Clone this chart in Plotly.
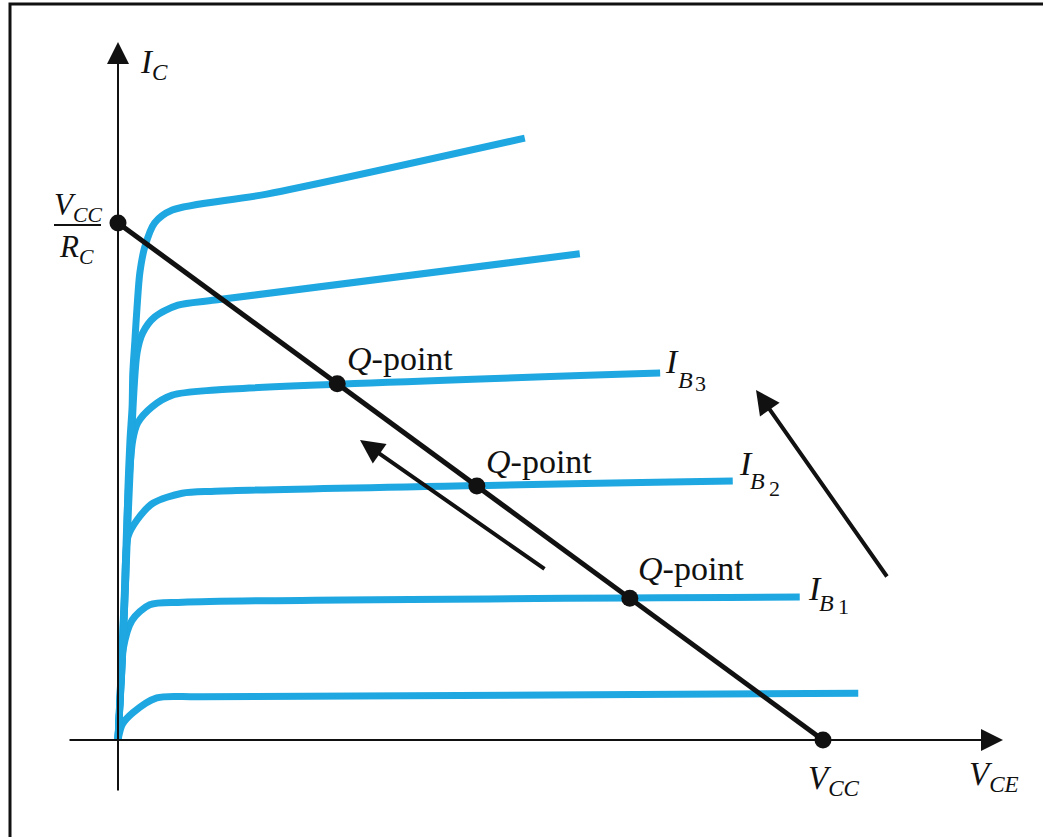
import plotly.graph_objects as go

## Output characteristics (V_CE in volts, I_C in mA)
vcc = 10.0
ic_sat = 10.06

curve_v = [
    [0, 0.06, 0.21, 0.55, 1.16, 10.5],
    [0, 0.03, 0.07, 0.2, 0.45, 0.92, 9.67],
    [0, 0.04, 0.09, 0.14, 0.27, 0.5, 0.91, 1.38, 8.72],
    [0, 0.05, 0.1, 0.14, 0.21, 0.28, 0.48, 0.77, 1.38, 7.69],
    [0, 0.06, 0.12, 0.18, 0.27, 0.35, 0.52, 0.85, 1.38, 6.55],
    [0, 0.06, 0.11, 0.14, 0.17, 0.2, 0.21, 0.24, 0.27, 0.31, 0.38, 0.52, 0.77, 2.11, 5.77],
]
curve_i = [
    [0, 0.3, 0.53, 0.82, 0.84, 0.91],
    [0, 0.78, 1.75, 2.33, 2.63, 2.68, 2.78],
    [0, 1.17, 2.72, 3.95, 4.28, 4.61, 4.8, 4.84, 5.04],
    [0, 1.5, 3.2, 4.7, 5.84, 6.17, 6.48, 6.71, 6.81, 7.14],
    [0, 1.5, 3.5, 5.5, 7.53, 7.92, 8.23, 8.46, 8.56, 9.46],
    [0, 1.5, 3.2, 4.86, 5.84, 6.48, 7.14, 7.78, 8.42, 9.09, 9.59, 10.06, 10.31, 10.62, 11.71],
]

## Q-points on the load line
q_vce = [3.11, 5.09, 7.26]
q_ic = [ic_sat * (1 - v / vcc) for v in q_vce]

## base-current labels
ib_digits = ["3", "2", "1"]

## pixel -> data helpers for the frame (origin at 118,740)
def px(x):
    return (x - 118) / 70.5

def py(y):
    return (740 - y) / 51.4

blue = "#1EA7E1"
ink = "#111111"
serif = "Liberation Serif, Times New Roman, serif"

fig = go.Figure()

for v, i in zip(curve_v, curve_i):
    fig.add_trace(go.Scatter(x=v, y=i, mode="lines", line=dict(color=blue, width=7, shape="spline", smoothing=0.8),
                             hoverinfo="skip", showlegend=False))

## load line
fig.add_trace(go.Scatter(x=[0, vcc], y=[ic_sat, 0], mode="lines", line=dict(color=ink, width=5),
                         hoverinfo="skip", showlegend=False))
## end points and Q-points
fig.add_trace(go.Scatter(x=[0, vcc] + q_vce, y=[ic_sat, 0] + q_ic, mode="markers",
                         marker=dict(color=ink, size=17), hoverinfo="skip", showlegend=False))

annots = []

## axes with arrows
annots.append(dict(x=px(1003), y=0, ax=px(68), ay=0, xref="x", yref="y", axref="x", ayref="y",
                   showarrow=True, arrowhead=2, arrowsize=2.2, arrowwidth=2, arrowcolor=ink, text=""))
annots.append(dict(x=0, y=py(42), ax=0, ay=py(792), xref="x", yref="y", axref="x", ayref="y",
                   showarrow=True, arrowhead=2, arrowsize=2.2, arrowwidth=2, arrowcolor=ink, text=""))

## direction arrows
arrows = [((546, 570), (360, 440)), ((888, 578), (756, 390))]
for (tx, ty), (hx, hy) in arrows:
    annots.append(dict(x=px(hx), y=py(hy), ax=px(tx), ay=py(ty), xref="x", yref="y", axref="x", ayref="y",
                       showarrow=True, arrowhead=2, arrowsize=1.2, arrowwidth=4, arrowcolor=ink, text=""))

def label(text, x, y, size=33, anchor="left"):
    annots.append(dict(x=px(x), y=py(y), xref="x", yref="y", text=text, showarrow=False,
                       xanchor=anchor, yanchor="middle", font=dict(family=serif, size=size, color=ink)))

label("<i>I</i><sub><i>C</i></sub>", 138, 64)
label("<i>V</i><sub><i>CC</i></sub>", 78, 207, size=31, anchor="center")
label("<i>R</i><sub><i>C</i></sub>", 76, 249, size=31, anchor="center")
label("<i>Q</i>-point", 345, 358, size=34)
label("<i>Q</i>-point", 484, 461, size=34)
label("<i>Q</i>-point", 636, 568, size=34)

## I_B labels: I, subscript B, sub-subscript digit
ib_pos = [((663, 361), (676, 380), (693, 383)),
          ((737, 463), (748, 481), (767, 488)),
          ((806, 588), (817, 603), (836, 606))]
for d, (pi, pb, pd) in zip(ib_digits, ib_pos):
    label("<i>I</i>", pi[0], pi[1], size=34)
    label("<i>B</i>", pb[0], pb[1], size=24)
    label(d, pd[0], pd[1], size=22)

label("<i>V</i><sub><i>CC</i></sub>", 806, 780)
label("<i>V</i><sub><i>CE</i></sub>", 967, 776)

shapes = [
    ## fraction bar for V_CC / R_C
    dict(type="line", xref="x", yref="y", x0=px(54), x1=px(101), y0=py(225), y1=py(225),
         line=dict(color=ink, width=2)),
    ## outer frame
    dict(type="rect", xref="paper", yref="paper", x0=10 / 1043, x1=1.02, y0=-0.02, y1=1 - 4 / 837,
         line=dict(color=ink, width=3)),
]

fig.update_layout(
    width=1043, height=837,
    margin=dict(l=0, r=0, t=0, b=0),
    paper_bgcolor="white", plot_bgcolor="white",
    xaxis=dict(range=[px(0), px(1043)], visible=False, fixedrange=True),
    yaxis=dict(range=[py(837), py(0)], visible=False, fixedrange=True),
    annotations=annots, shapes=shapes,
)

fig.write_html("out.html", config={"displayModeBar": False},
               post_script="document.body.style.margin='0';document.body.style.overflow='hidden';")
